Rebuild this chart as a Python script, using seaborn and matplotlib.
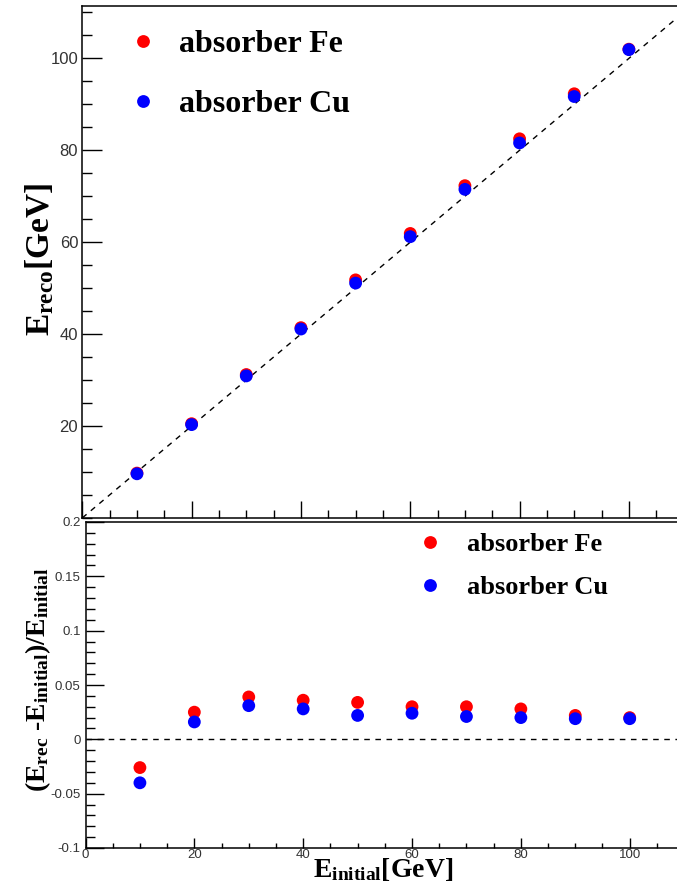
import numpy as np
import pandas as pd
import matplotlib
matplotlib.use("Agg")
import matplotlib.pyplot as plt
from matplotlib.ticker import MultipleLocator
import seaborn as sns

# ---------------- data ----------------
e_initial = [10, 20, 30, 40, 50, 60, 70, 80, 90, 100]
fe_reco = [9.75, 20.5, 31.2, 41.4, 51.8, 61.9, 72.3, 82.5, 92.3, 102.0]
cu_reco = [9.6, 20.3, 30.9, 41.1, 51.1, 61.2, 71.5, 81.6, 91.7, 101.9]
fe_rel = [-0.026, 0.025, 0.039, 0.036, 0.034, 0.030, 0.030, 0.028, 0.022, 0.020]
cu_rel = [-0.040, 0.016, 0.031, 0.028, 0.022, 0.024, 0.021, 0.020, 0.019, 0.019]
labels = ["absorber Fe", "absorber Cu"]
colors = ["#ff0000", "#0000ff"]
diag_x = [0, 110]
zero_x = [0, 110]

sns.set_theme(style="white")
plt.rcParams["font.family"] = ["Liberation Sans", "DejaVu Sans"]
plt.rcParams["mathtext.fontset"] = "custom"
plt.rcParams["mathtext.rm"] = "Liberation Serif:bold"
plt.rcParams["mathtext.it"] = "Liberation Serif:bold"
plt.rcParams["mathtext.bf"] = "Liberation Serif:bold"
plt.rcParams["mathtext.default"] = "rm"
plt.rcParams["text.color"] = "black"
plt.rcParams["axes.labelcolor"] = "black"

W, H = 677, 883
fig = plt.figure(figsize=(W / 100, H / 100), dpi=100)
fig.patch.set_facecolor("white")

def px_axes(left, top, right, bottom):
    return [left / W, 1 - bottom / H, (right - left) / W, (bottom - top) / H]

ax2 = fig.add_axes(px_axes(85.5, 522, 85.5 + 110 * 5.442, 848))
ax1 = fig.add_axes(px_axes(82.3, 6, 82.3 + 110 * 5.466, 517.9))

df_top = pd.DataFrame({
    "E": e_initial * 2,
    "val": fe_reco + cu_reco,
    "abs": [labels[0]] * 10 + [labels[1]] * 10,
})
df_bot = pd.DataFrame({
    "E": e_initial * 2,
    "val": fe_rel + cu_rel,
    "abs": [labels[0]] * 10 + [labels[1]] * 10,
})

pal = dict(zip(labels, colors))
serif_bold = {"family": "Liberation Serif", "weight": "bold", "color": "black"}

# ---------------- top panel ----------------
ax1.plot(diag_x, diag_x, ls=(0, (4, 4)), color="black", lw=1.0, zorder=1)
sns.scatterplot(data=df_top, x="E", y="val", hue="abs", palette=pal, s=85,
                edgecolor="none", linewidth=0, ax=ax1, zorder=3)
ax1.set_xlim(0, 110)
ax1.set_ylim(0, 111.4)
ax1.xaxis.set_major_locator(MultipleLocator(20))
ax1.xaxis.set_minor_locator(MultipleLocator(5))
ax1.yaxis.set_major_locator(MultipleLocator(20))
ax1.yaxis.set_minor_locator(MultipleLocator(5))
ax1.tick_params(axis="both", which="both", direction="in", colors="black",
                bottom=True, left=True, top=False, right=False, width=1.0)
ax1.tick_params(axis="y", which="major", length=14.4, pad=3, labelsize=12,
                labelcolor="#333333")
ax1.tick_params(axis="y", which="minor", length=7.2)
ax1.tick_params(axis="x", which="major", length=12.2, labelbottom=False)
ax1.tick_params(axis="x", which="minor", length=5.8)
ax1.set_yticks([20, 40, 60, 80, 100])
ax1.set_xlabel("")
ax1.set_ylabel("$E_{reco}$[GeV]", fontsize=24, fontdict=serif_bold)
ax1.yaxis.set_label_coords(-0.043, 0.504)
for s in ax1.spines.values():
    s.set_linewidth(1.1)
    s.set_color("black")
leg1 = ax1.legend(loc="upper left", bbox_to_anchor=(127 / W, 1 - 30 / H),
                  bbox_transform=fig.transFigure, frameon=False, borderpad=0,
                  borderaxespad=0, handlelength=1.0, handletextpad=0.63,
                  labelspacing=0.94, prop={"family": "Liberation Serif",
                                           "weight": "bold", "size": 23},
                  title=None)
for t in leg1.get_texts():
    t.set_color("black")

# ---------------- bottom panel ----------------
ax2.plot(zero_x, [0, 0], ls=(0, (4, 4)), color="black", lw=1.0, zorder=1)
sns.scatterplot(data=df_bot, x="E", y="val", hue="abs", palette=pal, s=85,
                edgecolor="none", linewidth=0, ax=ax2, zorder=3)
ax2.set_xlim(0, 110)
ax2.set_ylim(-0.1, 0.2)
ax2.xaxis.set_major_locator(MultipleLocator(20))
ax2.xaxis.set_minor_locator(MultipleLocator(5))
ax2.yaxis.set_major_locator(MultipleLocator(0.05))
ax2.yaxis.set_minor_locator(MultipleLocator(0.01))
ax2.tick_params(axis="both", which="both", direction="in", colors="black",
                bottom=True, left=True, top=False, right=False, width=1.0)
ax2.tick_params(axis="y", which="major", length=13, pad=3.5, labelsize=9.5,
                labelcolor="#333333")
ax2.tick_params(axis="y", which="minor", length=6.5)
ax2.tick_params(axis="x", which="major", length=7.2, pad=1, labelsize=9.5,
                labelcolor="#333333")
ax2.tick_params(axis="x", which="minor", length=3.6)
ax2.set_xticks([0, 20, 40, 60, 80, 100])
ax2.set_xticklabels(["0", "20", "40", "60", "80", "100"])
ax2.set_yticks([-0.1, -0.05, 0, 0.05, 0.1, 0.15, 0.2])
ax2.set_yticklabels(["-0.1", "-0.05", "0", "0.05", "0.1", "0.15", "0.2"])
ax2.set_xlabel("$E_{initial}$[GeV]", fontsize=20, fontdict=serif_bold)
ax2.xaxis.set_label_coords(0.497, -0.025)
ax2.set_ylabel("$(E_{rec}$ -$E_{initial})/E_{initial}$", fontsize=20,
               fontdict=serif_bold)
ax2.yaxis.set_label_coords(-0.055, 0.515)
for s in ax2.spines.values():
    s.set_linewidth(1.1)
    s.set_color("black")
leg2 = ax2.legend(loc="upper left", bbox_to_anchor=(416.8 / W, 1 - 533 / H),
                  bbox_transform=fig.transFigure, frameon=False, borderpad=0,
                  borderaxespad=0, handlelength=1.0, handletextpad=0.9,
                  labelspacing=0.72, prop={"family": "Liberation Serif",
                                           "weight": "bold", "size": 19},
                  title=None)
for t in leg2.get_texts():
    t.set_color("black")

fig.savefig("out.png", dpi=100, facecolor="white")
